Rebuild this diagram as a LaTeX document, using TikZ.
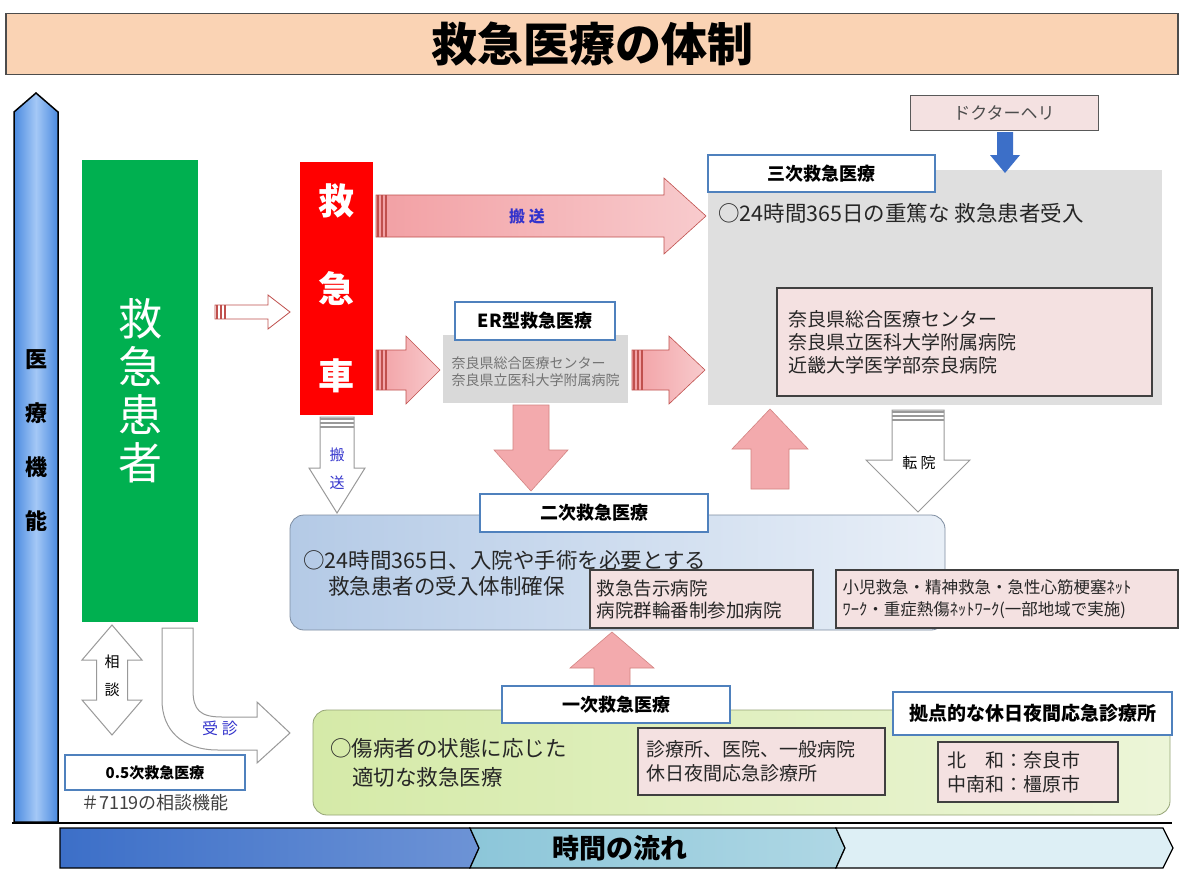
\documentclass[tikz,border=0pt]{standalone}
\usepackage{fontspec}
\setmainfont{Noto Sans CJK JP}
\usepackage{xcolor}
\usepackage{tikz}
\usetikzlibrary{
    positioning,
    calc
}

\newcommand{\fsz}[2]{\fontsize{#1}{#2}\selectfont}

\definecolor{titlepeach}{HTML}{FAD3B4}
\definecolor{axisblue}{HTML}{4A8AE0}
\definecolor{axislight}{HTML}{A4C8F6}
\definecolor{patientgreen}{HTML}{00B050}
\definecolor{arrowpink}{HTML}{F2A0A4}
\definecolor{arrowedge}{HTML}{C0504D}
\definecolor{boxgray}{HTML}{D9D9D9}
\definecolor{labelblue}{HTML}{4F81BD}
\definecolor{notepink}{HTML}{F4E1E1}
\definecolor{secondblue}{HTML}{B4CAE6}
\definecolor{firstgreen}{HTML}{D5EAA8}
\definecolor{textblue}{HTML}{3333CC}
\definecolor{flowdark}{HTML}{3C6FC8}
\definecolor{flowmid}{HTML}{8CC6D9}
\definecolor{flowlight}{HTML}{DDEFF5}

\tikzset{
    % block arrow pointing along +x: length / shaft half / head half / head length
    pics/fatarrow/.style args={#1/#2/#3/#4}{
        code={
            \path[pic actions] (0,-#2) -- ({#1-#4},-#2) -- ({#1-#4},-#3) -- (#1,0)
                -- ({#1-#4},#3) -- ({#1-#4},#2) -- (0,#2) -- cycle;
        }
    },
    % block arrow with heads on both ends
    pics/fatdouble/.style args={#1/#2/#3/#4}{
        code={
            \path[pic actions] (0,0) -- (#4,-#3) -- (#4,-#2) -- ({#1-#4},-#2) -- ({#1-#4},-#3)
                -- (#1,0) -- ({#1-#4},#3) -- ({#1-#4},#2) -- (#4,#2) -- (#4,#3) -- cycle;
        }
    },
    % stripes at the tail of a block arrow
    pics/tailbars/.style={
        code={
            \foreach \s in {3,7,11}
                \draw[pic actions] (\s,-#1) -- (\s,#1);
        }
    }
}

\begin{document}
\begin{tikzpicture}[
    x=1pt, y=-1pt,
    levelbox/.style={draw=labelblue, line width=1.2pt, fill=white, font=\bfseries\fsz{18}{20}},
    notebox/.style={draw=black!75, line width=1.2pt, fill=notepink},
    pinkarrow/.style={draw=arrowedge, line width=0.6pt, left color=arrowpink, right color=arrowpink!55!white},
    pinkdown/.style={draw=arrowedge!70, line width=0.6pt, fill=arrowpink!90},
    hollowarrow/.style={draw=black!40, line width=1pt, fill=white},
    stripes/.style={draw=arrowedge, line width=1.2pt},
    graystripes/.style={draw=black!40, line width=1.2pt},
    bodytext/.style={anchor=west, inner sep=0pt, align=left, text=black!85},
    vtext/.style={align=center, inner sep=0pt},
    flowseg/.style={draw=black, line width=1.2pt}
]
    \useasboundingbox (0,0) rectangle (1179,873);
    \fill[white] (0,0) rectangle (1179,873);

    % --- TITLE ---
    \node[draw=black!70, line width=1.5pt, fill=titlepeach, minimum width=1172pt, minimum height=61pt,
          font=\bfseries\fsz{46}{50}] (title) at (592,44) {救急医療の体制};

    % --- AXES ---
    \path[draw=black, line width=1.5pt, left color=axisblue, right color=axisblue, middle color=axislight]
        (14,822) -- (14,112) -- (36,93) -- (58,112) -- (58,822) -- cycle;
    \draw[line width=1.5pt] (12,823) -- (1172,823);
    \node[vtext, font=\bfseries\fsz{22}{54}] (axislabel) at (36,441) {医\\療\\機\\能};

    \path[flowseg, left color=flowdark, right color=flowdark!75!white]
        (60,828) -- (470,828) -- (479,848) -- (470,868) -- (60,868) -- cycle;
    \path[flowseg, left color=flowmid, right color=flowmid!70!white]
        (470,828) -- (836,828) -- (845,848) -- (836,868) -- (470,868) -- (479,848) -- cycle;
    \path[flowseg, fill=flowlight]
        (836,828) -- (1163,828) -- (1173,848) -- (1163,868) -- (836,868) -- (845,848) -- cycle;
    \node[font=\bfseries\fsz{27}{30}] (timeflow) at (620,848) {時間の流れ};

    % --- PATIENT / AMBULANCE ---
    \node[fill=patientgreen, minimum width=116pt, minimum height=462pt] (patient) at (140,391) {};
    \node[vtext, text=white, font=\fsz{44}{48}] at (patient) {救\\急\\患\\者};

    \pic[draw=arrowedge, fill=white, line width=0.8pt] at (215,312) {fatarrow={75/7/17/22}};
    \pic[stripes] at (214,312) {tailbars=7};

    \node[fill=red, minimum width=73pt, minimum height=253pt] (amb) at (336.5,288.5) {};
    \node[vtext, text=white, font=\bfseries\fsz{36}{87.5}] at (amb) {救\\急\\車};

    % --- TERTIARY ---
    \node[fill=boxgray!85, minimum width=454pt, minimum height=235pt] (tert) at (935,287.5) {};
    \node[levelbox, minimum width=227pt, minimum height=37pt] (terttitle) at (821.5,173.5) {三次救急医療};
    \node[bodytext, font=\fsz{21.5}{24}] (tertnote) at (718,213) {○24時間365日の重篤な 救急患者受入};
    \node[notebox, minimum width=375pt, minimum height=108pt] (tertlist) at (964.5,342) {};
    \node[bodytext, font=\fsz{19}{23}] at ([xshift=12pt]tertlist.west) {奈良県総合医療センター\\奈良県立医科大学附属病院\\近畿大学医学部奈良病院};

    \node[draw=black!65, line width=1pt, fill=notepink, minimum width=188pt, minimum height=35pt,
          font=\fsz{17}{20}, text=black!70] (heli) at (1004,112.5) {ドクターヘリ};
    \pic[fill=flowdark, rotate=-90] at (1005,132) {fatarrow={41/8/15/18}};

    % --- ER ---
    \node[fill=boxgray, minimum width=185pt, minimum height=68pt] (er) at (535.5,369) {};
    \node[levelbox, minimum width=160pt, minimum height=38pt] (ertitle) at (535,321) {ER型救急医療};
    \node[vtext, align=left, font=\fsz{14}{17}, text=black!55] at ([yshift=-3pt]er.center) {奈良県総合医療センター\\奈良県立医科大学附属病院};

    % --- TRANSPORT ARROWS ---
    \pic[pinkarrow] at (376,216) {fatarrow={330/21/38/42}};
    \pic[stripes] at (375,216) {tailbars=21};
    \node[font=\bfseries\fsz{16}{18}, text=textblue] (transport) at (527,216) {搬\ 送};

    \pic[pinkarrow] at (376,370) {fatarrow={64/20/34/34}};
    \pic[stripes] at (375,370) {tailbars=20};

    \pic[pinkarrow] at (632,370) {fatarrow={73/20/34/36}};
    \pic[stripes] at (631,370) {tailbars=20};

    \pic[pinkdown, rotate=-90] at (531,405) {fatarrow={86/18/37/41}};
    \pic[pinkdown, rotate=90] at (770,489) {fatarrow={80/19/38/40}};
    \pic[pinkdown, rotate=90] at (612,690) {fatarrow={58/18/42/36}};

    \pic[hollowarrow, rotate=-90] at (918,410) {fatarrow={102/26/52/52}};
    \pic[graystripes, rotate=-90] at (918,409) {tailbars=26};
    \node[font=\fsz{15}{18}] (transfer) at (919,463) {転\ 院};

    \pic[hollowarrow, rotate=-90] at (337,417) {fatarrow={96/17/28/45}};
    \pic[graystripes, rotate=-90] at (337,416) {tailbars=17};
    \node[vtext, font=\fsz{15}{28}, text=textblue] (ambdown) at (337,469) {搬\\送};

    % --- SECONDARY ---
    \node[draw=secondblue!70!black, line width=0.8pt, rounded corners=14pt, left color=secondblue, right color=secondblue!30!white,
          minimum width=655pt, minimum height=115pt] (second) at (617.5,572.5) {};
    \node[levelbox, minimum width=228pt, minimum height=38pt] (secondtitle) at (594,513) {二次救急医療};
    \node[bodytext, font=\fsz{21.5}{24}] (secondnote) at (303,560) {○24時間365日、入院や手術を必要とする};
    \node[bodytext, font=\fsz{21.5}{24}] at (328,586) {救急患者の受入体制確保};
    \node[notebox, minimum width=223pt, minimum height=58pt] (secondlist) at (701.5,599) {};
    \node[bodytext, font=\fsz{18.5}{22}] at ([xshift=7pt]secondlist.west) {救急告示病院\\病院群輪番制参加病院};
    \node[notebox, minimum width=342pt, minimum height=58pt] (netlist) at (1007,599) {};
    \node[bodytext, font=\fsz{16.5}{22}] at ([xshift=7pt]netlist.west) {小児救急・精神救急・急性心筋梗塞ﾈｯﾄ\\ﾜｰｸ・重症熱傷ﾈｯﾄﾜｰｸ(一部地域で実施)};

    % --- PRIMARY ---
    \node[draw=firstgreen!70!black, line width=0.8pt, rounded corners=14pt, left color=firstgreen, right color=firstgreen!45!white,
          minimum width=857pt, minimum height=105pt] (first) at (741.5,762.5) {};
    \node[levelbox, minimum width=228pt, minimum height=37pt] (firsttitle) at (616,704.5) {一次救急医療};
    \node[bodytext, font=\fsz{21.5}{24}] (firstnote) at (330,748) {○傷病者の状態に応じた};
    \node[bodytext, font=\fsz{21.5}{24}] at (352,777) {適切な救急医療};
    \node[notebox, minimum width=247pt, minimum height=67pt] (clinics) at (761.5,761.5) {};
    \node[bodytext, font=\fsz{19}{24}] at ([xshift=9pt]clinics.west) {診療所、医院、一般病院\\休日夜間応急診療所};
    \node[levelbox, minimum width=279pt, minimum height=43pt, font=\bfseries\fsz{19}{22}] (hubtitle) at (1032.5,713.5) {拠点的な休日夜間応急診療所};
    \node[notebox, minimum width=180pt, minimum height=60pt] (hubs) at (1028,772) {};
    \node[bodytext, font=\fsz{19}{24}] at ([xshift=10pt]hubs.west) {北　和：奈良市\\中南和：橿原市};

    % --- 0.5 LEVEL ---
    \pic[hollowarrow, rotate=-90] at (112,625) {fatdouble={110/15.5/30/35}};
    \node[vtext, font=\fsz{15}{28}] (consult) at (112,676) {相\\談};

    \draw[hollowarrow] (162,628) -- (193,628) -- (193,690) .. controls (193,710) and (200,717) .. (222,717)
        -- (257,717) -- (257,702) -- (290,733) -- (257,763) -- (257,750) -- (218,750)
        .. controls (182,750) and (162,730) .. (162,700) -- cycle;
    \node[font=\fsz{16}{18}, text=textblue] (visit) at (220,728) {受\ 診};

    \node[levelbox, minimum width=180pt, minimum height=35pt, font=\bfseries\fsz{15}{18}] (halftitle) at (155,772.5) {0.5次救急医療};
    \node[below=0pt of halftitle, font=\fsz{18}{20}, text=black!75] (hotline) {＃7119の相談機能};

\end{tikzpicture}
\end{document}
